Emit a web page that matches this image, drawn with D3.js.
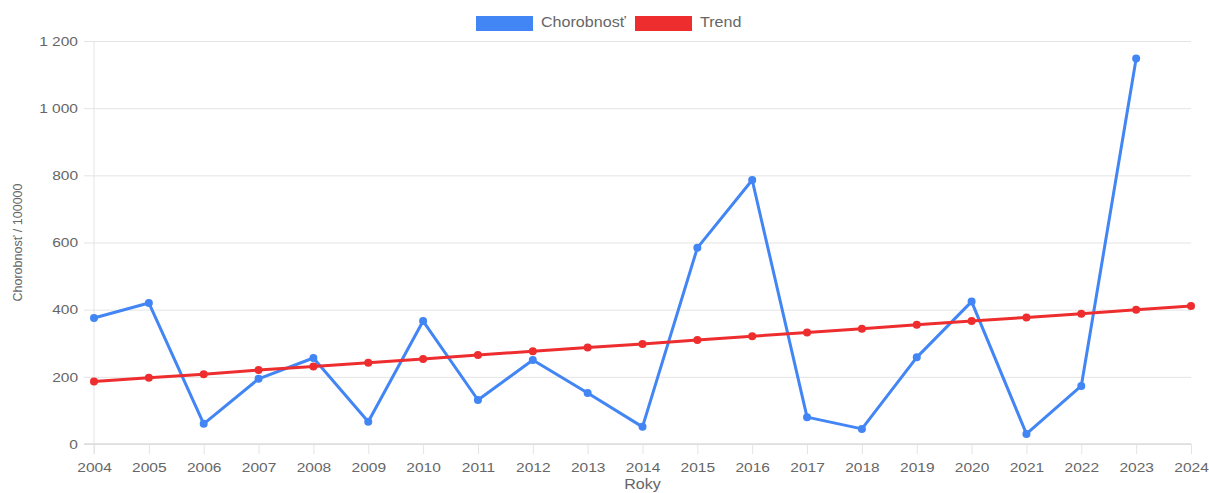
<!DOCTYPE html>
<html><head><meta charset="utf-8">
<script src="https://cdn.jsdelivr.net/npm/d3@7"></script>
<style>html,body{margin:0;padding:0;background:#fff;}svg{display:block;}</style>
</head><body>
<svg id="c" width="1209" height="493"></svg>
<script>
const years = [2004,2005,2006,2007,2008,2009,2010,2011,2012,2013,2014,2015,2016,2017,2018,2019,2020,2021,2022,2023,2024];
const morbidity = [375,420,60,194,256,66,366,131,250,152,51,584,786,80,45,258,424,30,173,1148,null];
const trend = [186,197,208,220,231,242,253,265,276,287,298,310,321,332,343,355,366,377,388,400,411];
const yTicks = [0,200,400,600,800,1000,1200];
const seriesNames = ["Chorobnosť","Trend"];
const colors = ["#4285f4","#ee2d2f"];

(function(){
const svg = d3.select("#c");
const pL = 94, pR = 1191, pT = 41, pB = 444;
const SX = 1.15;
const x = d3.scaleLinear().domain([2004,2024]).range([pL,pR]);
const y = d3.scaleLinear().domain([0,1200]).range([pB,pT]);
const font = "'Liberation Sans', Arial, sans-serif";
const txt = "#666";
const grid = "#e4e4e4";

function stretch(sel){
  sel.each(function(){
    const t = d3.select(this);
    const ax = +t.attr("x") || 0;
    t.attr("transform",`translate(${ax},0) scale(${SX},1) translate(${-ax},0)`);
  });
}

const yAxis = d3.axisLeft(y).tickValues(yTicks).tickSize(-(pR-pL)).tickPadding(16)
  .tickFormat(d => d3.format(",")(d).replace(/,/g," "));
const gy = svg.append("g").attr("transform",`translate(${pL},0)`).call(yAxis);
gy.select(".domain").remove();
gy.selectAll(".tick line").attr("stroke",grid).attr("x1",-10);
gy.selectAll(".tick text").attr("fill",txt).style("font-family",font).style("font-size","13.5px").call(stretch);

const xAxis = d3.axisBottom(x).tickValues(years).tickFormat(d3.format("d")).tickSize(10).tickPadding(8);
const gx = svg.append("g").attr("transform",`translate(0,${pB})`).call(xAxis);
gx.select(".domain").remove();
gx.selectAll(".tick line").attr("stroke",grid);
gx.selectAll(".tick text").attr("fill",txt).style("font-family",font).style("font-size","13.5px").call(stretch);
svg.append("line").attr("x1",pL).attr("x2",pL).attr("y1",pT).attr("y2",pB+10).attr("stroke",grid);
svg.append("line").attr("x1",pL-10).attr("x2",pR).attr("y1",pB).attr("y2",pB).attr("stroke","#dcdcdc").attr("stroke-width",1.5);

svg.append("text").attr("transform",`translate(22,${(pT+pB)/2}) rotate(-90)`).attr("text-anchor","middle")
  .attr("fill",txt).style("font-family",font).style("font-size","12.5px").text("Chorobnosť / 100000");
svg.append("text").attr("x",(pL+pR)/2).attr("y",489).attr("text-anchor","middle")
  .attr("fill",txt).style("font-family",font).style("font-size","14px").text("Roky").call(stretch);

const data = [morbidity, trend];
const line = d3.line().defined(d => d.v != null).x(d => x(d.yr)).y(d => y(d.v));
data.forEach((vals,i) => {
  const pts = years.map((yr,j) => ({yr, v: vals[j]}));
  svg.append("path").datum(pts).attr("d",line).attr("fill","none").attr("stroke",colors[i])
    .attr("stroke-width",3).attr("stroke-linejoin","round");
  svg.append("g").selectAll("circle").data(pts.filter(d => d.v != null)).join("circle")
    .attr("cx",d => x(d.yr)).attr("cy",d => y(d.v)).attr("r",4).attr("fill",colors[i]);
});

const legX = [476, 635];
seriesNames.forEach((n,i) => {
  svg.append("rect").attr("x",legX[i]).attr("y",16).attr("width",57).attr("height",15).attr("fill",colors[i]);
  svg.append("text").attr("x",legX[i]+65).attr("y",27.5).attr("fill",txt).style("font-family",font).style("font-size","14px").text(n).call(stretch);
});
})();
</script>
</body></html>
